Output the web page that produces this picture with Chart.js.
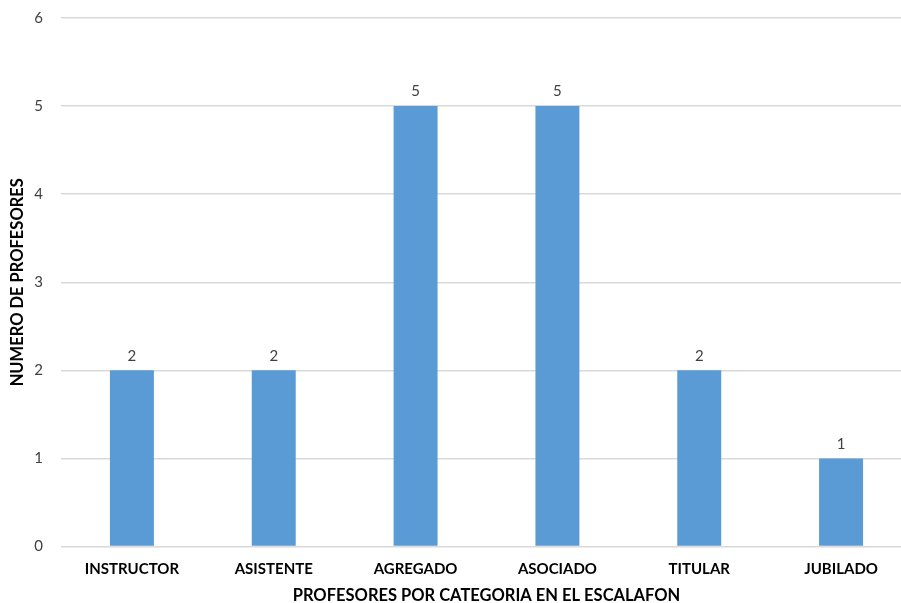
<!DOCTYPE html>
<html><head><meta charset="utf-8">
<script src="https://cdn.jsdelivr.net/npm/chart.js@4/dist/chart.umd.min.js"></script>
<style>
html,body{margin:0;padding:0;background:#fff;overflow:hidden;}
#wrap{position:relative;width:912px;height:606px;}
</style></head>
<body>
<div id="wrap"><canvas id="c"></canvas></div>
<script>
const categories = ["INSTRUCTOR","ASISTENTE","AGREGADO","ASOCIADO","TITULAR","JUBILADO"];
const profesores = [2,2,5,5,2,1];
const yTicks = [0,1,2,3,4,5,6];
const xTitle = "PROFESORES POR CATEGORIA EN EL ESCALAFON";
const yTitle = "NUMERO DE PROFESORES";

const FONT = "Lato, 'Open Sans', sans-serif";

const labelPlugin = {
  id: 'barLabels',
  afterDatasetsDraw(chart) {
    const ctx = chart.ctx;
    ctx.save();
    ctx.font = "15px " + FONT;
    ctx.fillStyle = "#404040";
    ctx.textAlign = "center";
    ctx.textBaseline = "bottom";
    chart.getDatasetMeta(0).data.forEach((bar, i) => {
      ctx.fillText(String(chart.data.datasets[0].data[i]), bar.x, bar.y - 7);
    });
    ctx.restore();
  }
};

new Chart(document.getElementById('c'), {
  type: 'bar',
  data: {
    labels: categories,
    datasets: [{
      data: profesores,
      backgroundColor: '#5B9BD5',
      borderWidth: 0,
      barPercentage: 0.31,
      categoryPercentage: 1.0
    }]
  },
  options: {
    responsive: true,
    maintainAspectRatio: false,
    animation: false,
    layout: { padding: { top: 18, left: 8, right: 0, bottom: 0 } },
    plugins: { legend: { display: false }, tooltip: { enabled: false } },
    scales: {
      x: {
        grid: { display: false, drawTicks: false },
        border: { display: false },
        afterFit(axis) { axis.height = 59.5; },
        ticks: { color: '#000', font: { family: FONT, size: 15, weight: 'bold' }, padding: 14 },
        title: { display: true, text: xTitle, color: '#000', font: { family: FONT, size: 16.5, weight: 'bold' }, padding: { top: 2, bottom: 0 } }
      },
      y: {
        min: 0, max: 6,
        afterBuildTicks(axis) { axis.ticks = yTicks.map(v => ({ value: v })); },
        afterFit(axis) { axis.width = 53; axis.paddingTop = 0; axis.paddingBottom = 0; },
        grid: { color: '#d9d9d9', lineWidth: 1.5, drawTicks: false },
        border: { display: false },
        ticks: { color: '#404040', font: { family: FONT, size: 15 }, padding: 18 },
        title: { display: true, text: yTitle, color: '#000', font: { family: FONT, size: 16.5, weight: 'bold' }, padding: { top: 0, bottom: 0 } }
      }
    }
  },
  plugins: [labelPlugin]
});
</script>
</body></html>
